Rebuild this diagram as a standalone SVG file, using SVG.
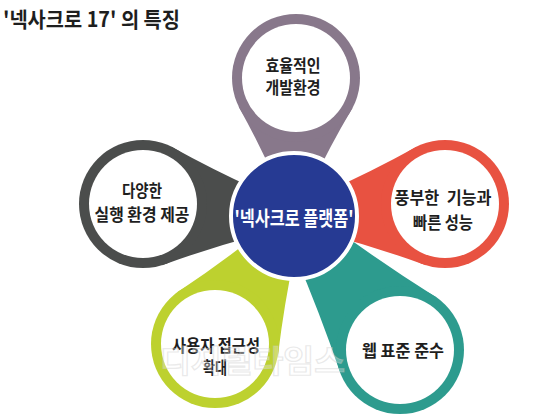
<svg xmlns="http://www.w3.org/2000/svg" width="540" height="420" viewBox="0 0 540 420">
<style>
text{font-family:"Noto Sans CJK KR","Noto Sans",sans-serif;font-weight:bold;text-anchor:middle;white-space:pre;}
.lbl{font-size:17px;fill:#1e1e1e;}
.title{font-size:21px;fill:#1e1e1e;text-anchor:start;}
.ctr{font-size:20px;fill:#ffffff;}
.wm{font-size:31px;fill:#ffffff;fill-opacity:0.3;stroke:#c8c8c8;stroke-opacity:0.4;stroke-width:1.2;text-anchor:start;}
.inner{fill:#ffffff;}
</style>
<rect width="540" height="420" fill="#ffffff"/>
<text class="title" x="3" y="27" textLength="177" lengthAdjust="spacingAndGlyphs">'넥사크로 17' 의 특징</text>
<g id="connectors">
<g transform="translate(294,216) rotate(-89.2)"><path d="M30,-16.6 Q69.4,-34.3 108.8,-57 L108.8,57 Q69.4,34.3 30,16.6 Z" fill="#88788b"/></g>
<g transform="translate(294,216) rotate(-4.5)"><path d="M30,-20.1 Q78.8,-37.2 127.6,-59.4 L127.6,59.4 Q78.8,37.2 30,20.1 Z" fill="#e85241"/></g>
<g transform="translate(294,216) rotate(51.65)"><path d="M30,-23 Q91,-39.5 151.9,-61.1 L151.9,61.1 Q91,39.5 30,23 Z" fill="#2d9b8e"/></g>
<g transform="translate(294,216) rotate(121.7)"><path d="M30,-19.9 Q78.1,-37 126.2,-59.2 L126.2,59.2 Q78.1,37 30,19.9 Z" fill="#bdd12f"/></g>
<g transform="translate(294,216) rotate(184.5)"><path d="M30,-20.1 Q78.8,-37.2 127.6,-59.4 L127.6,59.4 Q78.8,37.2 30,20.1 Z" fill="#4b4d4c"/></g>
</g>
<g id="node-top">
<circle cx="296" cy="78" r="64" fill="#88788b"/>
<circle class="inner" cx="296" cy="78" r="54"/>
<text class="lbl" x="293" y="72" textLength="55" lengthAdjust="spacingAndGlyphs">효율적인</text>
<text class="lbl" x="293" y="94" textLength="55" lengthAdjust="spacingAndGlyphs">개발환경</text>
</g>
<g id="node-right">
<circle cx="445" cy="204" r="64" fill="#e85241"/>
<circle class="inner" cx="445" cy="204" r="54"/>
<text class="lbl" x="443" y="204" textLength="97" lengthAdjust="spacingAndGlyphs">풍부한  기능과</text>
<text class="lbl" x="443" y="229" textLength="60" lengthAdjust="spacingAndGlyphs">빠른 성능</text>
</g>
<g id="node-bottom-right">
<circle cx="400" cy="350" r="64" fill="#2d9b8e"/>
<circle class="inner" cx="400" cy="350" r="54"/>
<text class="lbl" x="403" y="357" textLength="82" lengthAdjust="spacingAndGlyphs">웹 표준 준수</text>
</g>
<g id="node-bottom-left">
<circle cx="215" cy="344" r="64" fill="#bdd12f"/>
<circle class="inner" cx="215" cy="344" r="54"/>
<text class="lbl" x="216" y="352" textLength="88" lengthAdjust="spacingAndGlyphs">사용자 접근성</text>
<text class="lbl" x="215" y="374" textLength="24" lengthAdjust="spacingAndGlyphs">확대</text>
</g>
<g id="node-left">
<circle cx="143" cy="204" r="64" fill="#4b4d4c"/>
<circle class="inner" cx="143" cy="204" r="54"/>
<text class="lbl" x="142" y="197" textLength="40" lengthAdjust="spacingAndGlyphs">다양한</text>
<text class="lbl" x="142" y="221" textLength="95" lengthAdjust="spacingAndGlyphs">실행 환경 제공</text>
</g>
<g id="node-center">
<circle cx="294" cy="216" r="63" fill="#263a93" stroke="#ffffff" stroke-width="4"/>
<text class="ctr" x="294" y="226" textLength="119" lengthAdjust="spacingAndGlyphs">'넥사크로 플랫폼'</text>
</g>
<text class="wm" x="160" y="372" textLength="185" lengthAdjust="spacingAndGlyphs">디지털타임스</text>
</svg>
